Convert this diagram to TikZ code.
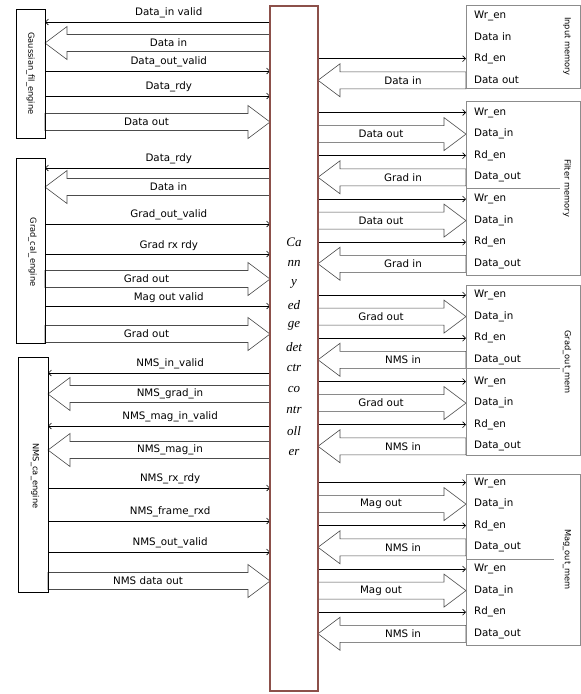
\documentclass[tikz,border=0pt]{standalone}
\usepackage{fontspec}
\newfontfamily\sigfont{DejaVu Sans}
\newfontfamily\ctrlfont{Liberation Serif}
\usetikzlibrary{positioning, arrows.meta, calc, backgrounds}
\definecolor{ctrlbrown}{RGB}{140,80,74}

% wide bus arrow: tail, tip, signed head length, label
\newcommand{\busarrow}[4]{%
  \draw[bus] ($(#1)+(0,-8.5)$) -- ($(#2)+(#3,-8.5)$) -- ($(#2)+(#3,-16.5)$) -- (#2)
    -- ($(#2)+(#3,16.5)$) -- ($(#2)+(#3,8.5)$) -- ($(#1)+(0,8.5)$) -- cycle;
  \path (#1) -- node[lbl]{#4} ($(#2)+(#3,0)$);}

\begin{document}
\begin{tikzpicture}[
  x=1pt, y=-1pt,
  >={Straight Barb[length=3pt,width=6pt]},
  eng/.style={draw, line width=0.7pt, outer sep=0pt, minimum width=29pt},
  mem/.style={draw=black!45, line width=0.6pt, outer sep=0pt, minimum width=114pt},
  ctrlbox/.style={draw=ctrlbrown, line width=1.1pt, outer sep=0pt},
  ctrltxt/.style={font=\ctrlfont\itshape\fontsize{13}{15}\selectfont, inner sep=0pt},
  sig/.style={->, line width=0.6pt},
  bus/.style={draw=black!70, fill=white, line width=0.6pt},
  lbl/.style={font=\sigfont\fontsize{10.3}{12}\selectfont, inner sep=1pt},
  port/.style={lbl, anchor=west},
  vlbl/.style={font=\sigfont\fontsize{8.3}{10}\selectfont, rotate=-90, inner sep=0pt},
]
\useasboundingbox (0,0) rectangle (581,694);

% --- controller ---
\node[ctrlbox, minimum width=48pt, minimum height=685pt] (ctrl) at (294,348.5) {};
\foreach \t [count=\i] in {Ca,nn,y,ed,ge,det,ctr,co,ntr,oll,er}
  \node[ctrltxt] (ctrl-\i) at (294,221+21*\i) {\t};

% --- engines ---
\node[eng, minimum height=129pt] (gauss) at (30.5,73.5) {};
\node[eng, minimum height=185pt] (gradeng) at (30.5,250.5) {};
\node[eng, minimum width=30pt, minimum height=235pt] (nmseng) at (33,474.5) {};
\node[vlbl] (gausslbl) at (gauss) {Gaussian\_fil\_engine};
\node[vlbl] (gradenglbl) at ($(gradeng)+(2,1.5)$) {Grad\_cal\_engine};
\node[vlbl] (nmsenglbl) at ($(nmseng)+(2,1.5)$) {NMS\_ca\_engine};

% --- memories ---
\node[mem, minimum height=83pt] (inmem) at (523,46.5) {};
\node[mem, minimum height=174pt] (filtmem) at (523,188) {};
\node[mem, minimum height=170pt] (gradmem) at (523,370) {};
\node[mem, minimum height=171pt] (magmem) at (523,559.5) {};
\draw[draw=black!45, line width=0.6pt] (filtmem.west) -- ++(94,0);
\draw[draw=black!45, line width=0.6pt] (gradmem.west) ++(0,-2) -- ++(94,0);
\draw[draw=black!45, line width=0.6pt] (magmem.west) -- ++(88,0);
\node[vlbl] (inmemlbl) at ($(inmem.east)+(-13,0)$) {Input memory};
\node[vlbl] (filtmemlbl) at ($(filtmem.east)+(-13,0)$) {Filter memory};
\node[vlbl] (gradmemlbl) at ($(gradmem.east)+(-13,-8)$) {Grad\_out\_mem};
\node[vlbl] (magmemlbl) at ($(magmem.east)+(-13,0)$) {Mag\_out\_mem};

% memory ports
\foreach \g/\m/\w/\din/\dout in {in/inmem/15.5/Data in/Data out,
    fa/filtmem/112.5/Data\_in/Data\_out, fb/filtmem/199/Data\_in/Data\_out,
    ga/gradmem/295/Data\_in/Data\_out, gb/gradmem/381.5/Data\_in/Data\_out,
    ma/magmem/482.5/Data\_in/Data\_out, mb/magmem/569/Data\_in/Data\_out} {
  \node[port] (\g-wr) at ($(\m.west |- 0,\w)+(7,0)$) {Wr\_en};
  \node[port] (\g-din) at ($(\m.west |- 0,\w)+(7,21.6)$) {\din};
  \node[port] (\g-rd) at ($(\m.west |- 0,\w)+(7,43.2)$) {Rd\_en};
  \node[port] (\g-dout) at ($(\m.west |- 0,\w)+(7,64.8)$) {\dout};
}

\begin{scope}[on background layer]
% --- controller <-> memories ---
\draw[sig] (ctrl.east |- in-rd) -- (inmem.west |- in-rd);
\busarrow{inmem.west |- in-dout}{ctrl.east |- in-dout}{22}{Data in}
\foreach \g/\m/\ftxt/\btxt in {fa/filtmem/Data out/Grad in, fb/filtmem/Data out/Grad in,
    ga/gradmem/Grad out/NMS in, gb/gradmem/Grad out/NMS in,
    ma/magmem/Mag out/NMS in, mb/magmem/Mag out/NMS in} {
  \draw[sig] (ctrl.east |- \g-wr) -- (\m.west |- \g-wr);
  \busarrow{ctrl.east |- \g-din}{\m.west |- \g-din}{-22}{\ftxt}
  \draw[sig] (ctrl.east |- \g-rd) -- (\m.west |- \g-rd);
  \busarrow{\m.west |- \g-dout}{ctrl.east |- \g-dout}{22}{\btxt}
}

% --- controller <-> engines ---
\foreach \y/\eng/\txt in {22/gauss/Data\_in valid, 168/gradeng/Data\_rdy,
    373/nmseng/NMS\_in\_valid, 426/nmseng/NMS\_mag\_in\_valid}
  \draw[sig] (ctrl.west |- 0,\y) -- node[lbl, above=2.5pt, pos=.45]{\txt} (\eng.east |- 0,\y);
\foreach \y/\eng/\txt in {71/gauss/Data\_out\_valid, 96/gauss/Data\_rdy,
    224/gradeng/Grad\_out\_valid, 254/gradeng/Grad rx rdy, 306/gradeng/Mag out valid,
    488/nmseng/NMS\_rx\_rdy, 521/nmseng/NMS\_frame\_rxd, 552/nmseng/NMS\_out\_valid}
  \draw[sig] (\eng.east |- 0,\y) -- node[lbl, above=2.5pt, pos=.55]{\txt} (ctrl.west |- 0,\y);
\foreach \y/\eng/\txt in {43/gauss/Data in, 187/gradeng/Data in,
    394/nmseng/NMS\_grad\_in, 450/nmseng/NMS\_mag\_in}
  {\busarrow{ctrl.west |- 0,\y}{\eng.east |- 0,\y}{22}{\txt}}
\foreach \y/\eng/\txt in {122/gauss/Data out, 279/gradeng/Grad out,
    334/gradeng/Grad out, 581/nmseng/NMS data out}
  {\busarrow{\eng.east |- 0,\y}{ctrl.west |- 0,\y}{-22}{\txt}}
\end{scope}
\end{tikzpicture}
\end{document}
